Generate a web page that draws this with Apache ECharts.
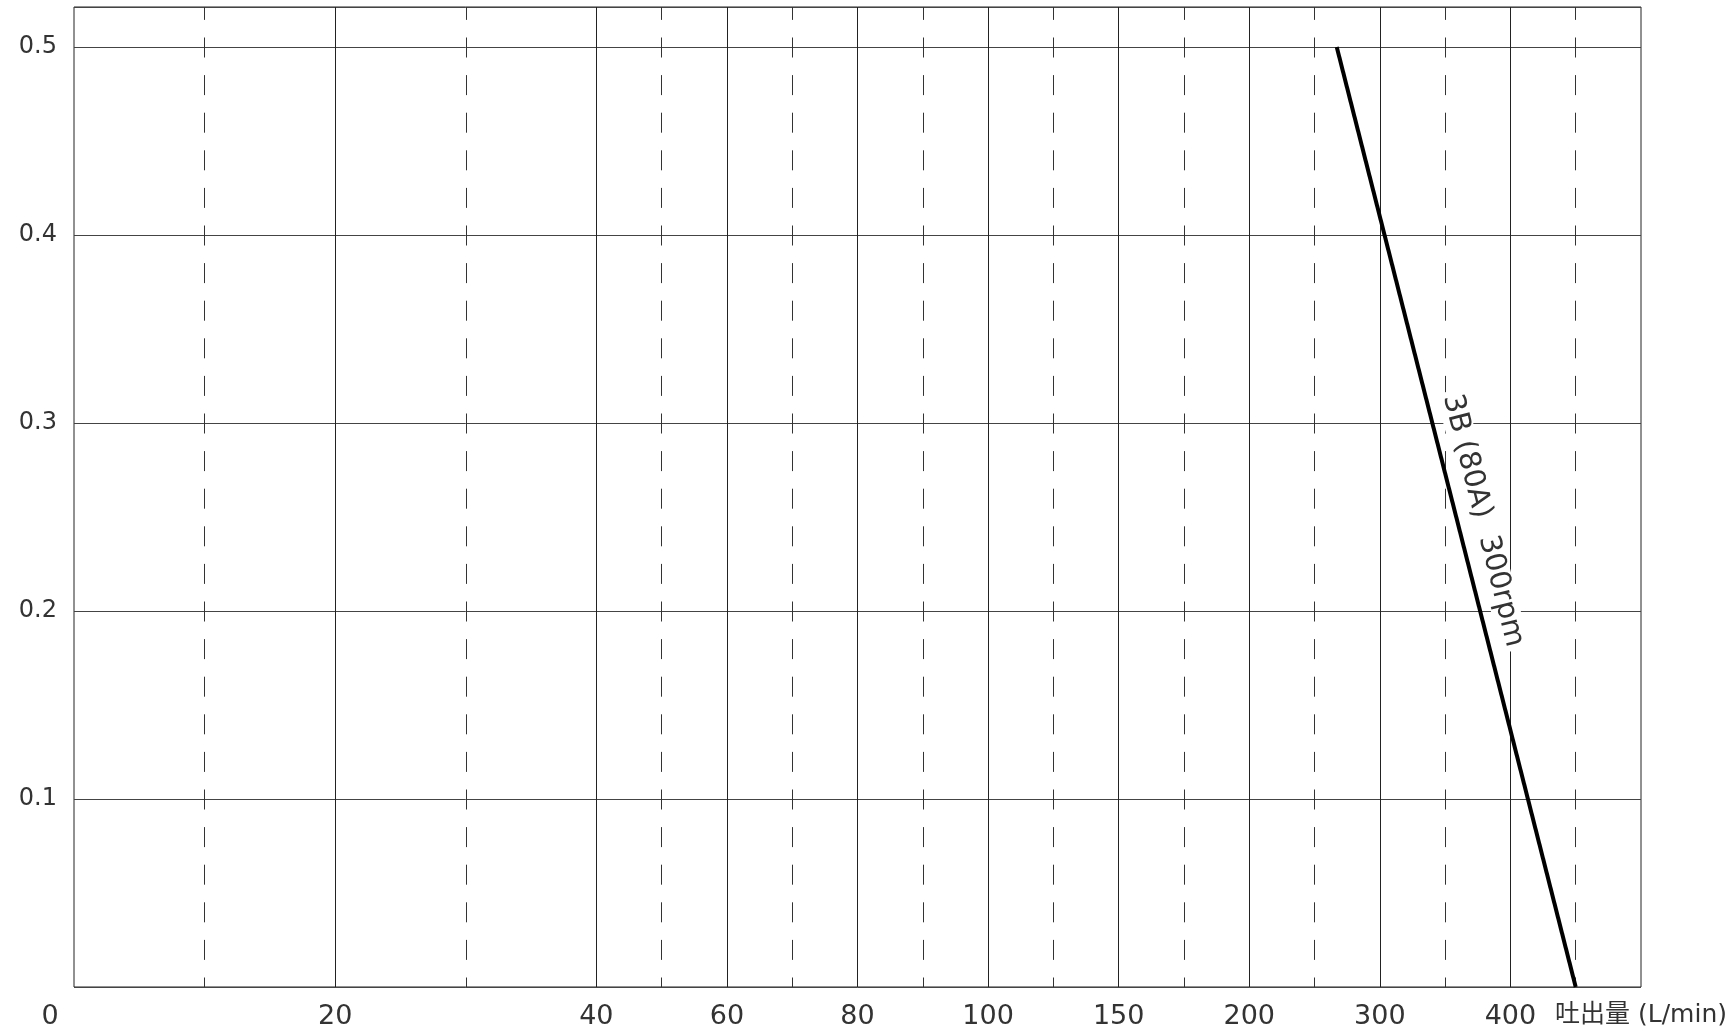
<!DOCTYPE html>
<html><head><meta charset="utf-8">
<script src="https://cdn.jsdelivr.net/npm/echarts@6/dist/echarts.min.js"></script>
<style>html,body{margin:0;padding:0;background:#fff}#c{width:1732px;height:1029px}</style>
</head><body><div id="c"></div>
<script>
// Flow axis (L/min): breakpoints and their position on the drawn (piecewise) axis
const flowTicks   = [0, 20, 40, 60, 80, 100, 150, 200, 300, 400, 500];
const flowTickPos = [0, 2, 4, 5, 6, 7, 8, 9, 10, 11, 12];
const xTickLabels = ['0', '20', '40', '60', '80', '100', '150', '200', '300', '400'];
const xAxisTitle  = '吐出量 (L/min)';
const solidGridPos  = [2, 4, 5, 6, 7, 8, 9, 10, 11];
const dashedGridPos = [1, 3, 4.5, 5.5, 6.5, 7.5, 8.5, 9.5, 10.5, 11.5];
const yTicks = [0.1, 0.2, 0.3, 0.4, 0.5];
// Curve: 3B (80A) 300rpm
const curveFlow     = [267, 450];
const curvePressure = [0.5, 0];
const curveName = '3B (80A)  300rpm';

function flowToPos(f) {
  for (let i = 0; i < flowTicks.length - 1; i++) {
    if (f <= flowTicks[i + 1]) {
      const t = (f - flowTicks[i]) / (flowTicks[i + 1] - flowTicks[i]);
      return flowTickPos[i] + t * (flowTickPos[i + 1] - flowTickPos[i]);
    }
  }
  return flowTickPos[flowTickPos.length - 1];
}

const FONT = "'DejaVu Sans', 'Noto Sans CJK JP', sans-serif";
const TXT = '#333';
const curveData = curveFlow.map((f, i) => [flowToPos(f), curvePressure[i]]);
const mid = [(curveData[0][0] + curveData[1][0]) / 2, (curveData[0][1] + curveData[1][1]) / 2];

const chart = echarts.init(document.getElementById('c'));
chart.setOption({
  animation: false,
  backgroundColor: '#fff',
  grid: {
    left: 74, top: 7, width: 1567, height: 980,
    show: true, borderColor: '#222', borderWidth: 1,
    containLabel: false, outerBoundsMode: 'none'
  },
  xAxis: {
    type: 'value', min: 0, max: 12, interval: 0.5,
    axisLine: { show: false }, axisTick: { show: false }, splitLine: { show: false },
    axisLabel: {
      margin: 16, color: TXT, fontFamily: FONT, fontSize: 27,
      formatter: function (v) {
        if (Math.abs(v - 12) < 1e-6) return '{t|' + xAxisTitle + '}';
        for (let i = 0; i < xTickLabels.length; i++) {
          if (Math.abs(v - flowTickPos[i]) < 1e-6) return i === 0 ? '{z|' + xTickLabels[i] + '}' : xTickLabels[i];
        }
        return '';
      },
      rich: {
        z: { padding: [0, 48, 0, 0], color: TXT, fontFamily: FONT, fontSize: 27 },
        t: { color: TXT, fontFamily: FONT, fontSize: 25 }
      }
    }
  },
  yAxis: {
    type: 'value', min: 0, max: 0.5213, interval: 0.1,
    axisLine: { show: false }, axisTick: { show: false },
    splitLine: { show: true, lineStyle: { color: '#444', width: 1 } },
    axisLabel: {
      margin: 17, color: TXT, fontFamily: FONT, fontSize: 24,
      formatter: function (v) {
        for (const t of yTicks) if (Math.abs(v - t) < 1e-6) return t.toFixed(1);
        return '';
      }
    }
  },
  series: [
    {
      type: 'line', data: [], silent: true, z: 1,
      markLine: {
        silent: true, z: 1, symbol: ['none', 'none'], label: { show: false },
        emphasis: { disabled: true },
        data: solidGridPos.map(p => ({ xAxis: p, lineStyle: { type: 'solid', color: '#222', width: 1 } }))
          .concat(dashedGridPos.map(p => ({ xAxis: p, lineStyle: { type: [20, 17.6], dashOffset: 10.5, color: '#333', width: 1 } })))
      }
    },
    {
      name: curveName, type: 'line', data: curveData, z: 5,
      showSymbol: false, symbol: 'none',
      lineStyle: { color: '#000', width: 4 },
      markPoint: {
        z: 10, silent: true, symbol: 'circle', symbolSize: 2,
        itemStyle: { color: 'rgba(0,0,0,0)' },
        data: [{
          coord: mid,
          label: {
            show: true, position: 'inside', formatter: curveName,
            rotate: -75.8, offset: [10, -25],
            color: TXT, fontFamily: FONT, fontSize: 29,
            backgroundColor: '#fff', padding: [0, 4]
          }
        }]
      }
    }
  ]
});
</script></body></html>
